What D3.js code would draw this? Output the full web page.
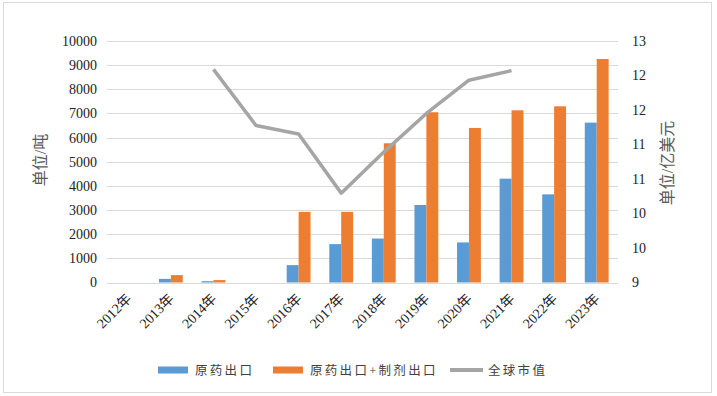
<!DOCTYPE html>
<html>
<head>
<meta charset="utf-8">
<script src="https://cdn.jsdelivr.net/npm/d3@7"></script>
<style>
  html, body { margin: 0; padding: 0; background: #fff; }
  svg { display: block; }
  svg text { font-family: "Liberation Serif", "Times New Roman", "DejaVu Serif", "Noto Sans CJK SC", serif; }
</style>
</head>
<body>
<div id="chart"></div>
<script>
const years = ['2012年', '2013年', '2014年', '2015年', '2016年', '2017年',
  '2018年', '2019年', '2020年', '2021年', '2022年', '2023年'];
// 原药出口 (吨)
const rawExport = [0, 150, 55, 0, 720, 1590, 1820, 3210, 1660, 4300, 3650, 6620];
// 原药出口+制剂出口 (吨)
const totalExport = [0, 305, 100, 0, 2925, 2925, 5765, 7050, 6400, 7130, 7295, 9255];
// 全球市值 (亿美元)
const globalValue = [null, null, 12.53, 11.6, 11.46, 10.48, 11.16, 11.8, 12.35, 12.51, null, null];
const leftTicks = [0, 1000, 2000, 3000, 4000, 5000, 6000, 7000, 8000, 9000, 10000];
const legendNames = ['原药出口', '原药出口+制剂出口', '全球市值'];

const width = 717, height = 396;
const plot = { left: 107, right: 618, top: 41, bottom: 282.5 };
const blue = '#5b9bd5', orange = '#ed7d31', gray = '#a5a5a5';

const svg = d3.select('#chart')
  .append('svg')
  .attr('width', width)
  .attr('height', height);

svg.append('rect')
  .attr('x', 3.5).attr('y', 2.5)
  .attr('width', 708).attr('height', 390)
  .attr('fill', '#fff')
  .attr('stroke', '#d9d9d9');

const x = d3.scaleBand()
  .domain(years)
  .range([plot.left, plot.right])
  .paddingInner(0.44)
  .paddingOuter(0.22);
const x1 = d3.scaleBand()
  .domain(['raw', 'total'])
  .range([0, x.bandwidth()]);
const yLeft = d3.scaleLinear().domain([0, 10000]).range([plot.bottom, plot.top]);
const yRight = d3.scaleLinear().domain([9, 13]).range([plot.bottom, plot.top]);
const rightTicks = d3.range(8).map(i => 9 + i * 4 / 7);

// gridlines
svg.append('g')
  .selectAll('line')
  .data(leftTicks)
  .join('line')
  .attr('x1', plot.left).attr('x2', plot.right)
  .attr('y1', d => Math.round(yLeft(d)) + 0.5)
  .attr('y2', d => Math.round(yLeft(d)) + 0.5)
  .attr('stroke', '#d9d9d9')
  .attr('stroke-width', 1);

// left axis
const leftAxis = svg.append('g')
  .attr('transform', 'translate(' + (plot.left - 10) + ',0)')
  .call(d3.axisLeft(yLeft).tickValues(leftTicks).tickFormat(d3.format('d')).tickSize(0).tickPadding(0));
leftAxis.select('.domain').remove();
leftAxis.attr('font-family', null);
leftAxis.selectAll('text')
  .attr('font-size', 14)
  .attr('fill', '#222');

// right axis
const rightAxis = svg.append('g')
  .attr('transform', 'translate(' + (plot.right + 14) + ',0)')
  .call(d3.axisRight(yRight).tickValues(rightTicks).tickFormat(d3.format('.0f')).tickSize(0).tickPadding(0));
rightAxis.select('.domain').remove();
rightAxis.attr('font-family', null);
rightAxis.selectAll('text')
  .attr('font-size', 14)
  .attr('fill', '#222');

// x axis labels
svg.append('g')
  .selectAll('text')
  .data(years)
  .join('text')
  .attr('transform', d => 'translate(' + (x(d) + x.bandwidth() / 2 + 4) + ',' + (plot.bottom + 17) + ') rotate(-45)')
  .attr('text-anchor', 'end')
  .attr('font-size', 14)
  .attr('fill', '#222')
  .text(d => d);

// bars
const groups = svg.append('g')
  .selectAll('g')
  .data(years)
  .join('g')
  .attr('transform', d => 'translate(' + x(d) + ',0)');

groups.append('rect')
  .attr('x', x1('raw'))
  .attr('width', x1.bandwidth())
  .attr('y', (d, i) => yLeft(rawExport[i]))
  .attr('height', (d, i) => yLeft(0) - yLeft(rawExport[i]))
  .attr('fill', blue);

groups.append('rect')
  .attr('x', x1('total'))
  .attr('width', x1.bandwidth())
  .attr('y', (d, i) => yLeft(totalExport[i]))
  .attr('height', (d, i) => yLeft(0) - yLeft(totalExport[i]))
  .attr('fill', orange);

// baseline
svg.append('line')
  .attr('x1', plot.left).attr('x2', plot.right)
  .attr('y1', Math.round(yLeft(0)) + 0.5).attr('y2', Math.round(yLeft(0)) + 0.5)
  .attr('stroke', '#d9d9d9');

// global value line
const lineData = years.map((d, i) => ({ year: d, v: globalValue[i] }));
svg.append('path')
  .datum(lineData)
  .attr('fill', 'none')
  .attr('stroke', gray)
  .attr('stroke-width', 3.5)
  .attr('stroke-linejoin', 'round')
  .attr('d', d3.line()
    .defined(d => d.v !== null)
    .x(d => x(d.year) + x.bandwidth() / 2)
    .y(d => yRight(d.v)));

// axis titles
svg.append('text')
  .attr('transform', 'translate(46,160) rotate(-90)')
  .attr('text-anchor', 'middle')
  .attr('font-size', 16)
  .attr('fill', '#595959')
  .text('单位/吨');

svg.append('text')
  .attr('transform', 'translate(673,163) rotate(-90)')
  .attr('text-anchor', 'middle')
  .attr('font-size', 16)
  .attr('fill', '#595959')
  .text('单位/亿美元');

// legend
const legendX = [158, 273, 450];
const legend = svg.append('g')
  .selectAll('g')
  .data(legendNames)
  .join('g')
  .attr('transform', (d, i) => 'translate(' + legendX[i] + ',370)');

legend.append('rect')
  .attr('x', 0)
  .attr('y', (d, i) => i === 2 ? -2 : -3.5)
  .attr('width', (d, i) => i === 2 ? 33 : 30)
  .attr('height', (d, i) => i === 2 ? 4 : 7)
  .attr('fill', (d, i) => [blue, orange, gray][i]);

legend.append('text')
  .attr('x', (d, i) => i === 2 ? 38 : 37)
  .attr('y', 5)
  .attr('font-size', 12.5)
  .attr('letter-spacing', 2.3)
  .attr('fill', '#404040')
  .text(d => d);
</script>
</body>
</html>
